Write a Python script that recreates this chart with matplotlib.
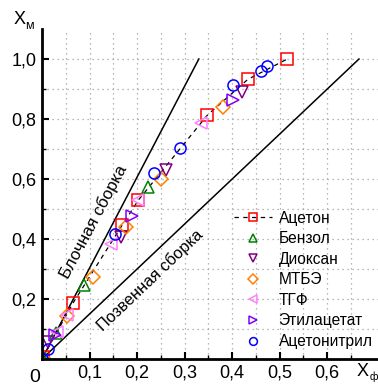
"""
X_m vs X_f plot for copolymerisation with different solvents.
"""

import matplotlib

matplotlib.use("Agg")
import matplotlib.pyplot as plt
from matplotlib.ticker import FixedLocator

plt.rcParams["font.family"] = ["Liberation Sans", "DejaVu Sans"]

# Data (x = X_f, y = X_m)
acetone_x = [0.003, 0.065, 0.169, 0.203, 0.348, 0.433, 0.515]
acetone_y = [0.008, 0.186, 0.447, 0.530, 0.813, 0.932, 0.999]

benzene_x = [0.003, 0.030, 0.088, 0.222]
benzene_y = [0.005, 0.088, 0.247, 0.574]

dioxane_x = [0.012, 0.166, 0.261, 0.420]
dioxane_y = [0.058, 0.406, 0.630, 0.891]

mtbe_x = [0.003, 0.052, 0.107, 0.177, 0.250, 0.380]
mtbe_y = [0.005, 0.145, 0.275, 0.439, 0.599, 0.839]

thf_x = [0.031, 0.052, 0.145, 0.203, 0.334]
thf_y = [0.091, 0.147, 0.383, 0.530, 0.788]

ethylacetate_x = [0.028, 0.189, 0.401]
ethylacetate_y = [0.080, 0.478, 0.865]

acetonitrile_x = [0.001, 0.012, 0.154, 0.236, 0.290, 0.401, 0.460, 0.474]
acetonitrile_y = [0.001, 0.033, 0.417, 0.621, 0.702, 0.915, 0.961, 0.977]

# reference lines
block_x = [0.0, 0.33]
block_y = [0.0, 1.0]
step_x = [0.0, 0.667]
step_y = [0.0, 1.0]

x_ticks = [0.1, 0.2, 0.3, 0.4, 0.5, 0.6]
x_ticklabels = ["0,1", "0,2", "0,3", "0,4", "0,5", "0,6"]
y_ticks = [0.2, 0.4, 0.6, 0.8, 1.0]
y_ticklabels = ["0,2", "0,4", "0,6", "0,8", "1,0"]

series = [
    ("Ацетон", acetone_x, acetone_y, "s", "#ff0000", 8),
    ("Бензол", benzene_x, benzene_y, "^", "#008000", 8),
    ("Диоксан", dioxane_x, dioxane_y, "v", "#800080", 8),
    ("МТБЭ", mtbe_x, mtbe_y, "D", "#ff8000", 7),
    ("ТГФ", thf_x, thf_y, "<", "#ff80ff", 8),
    ("Этилацетат", ethylacetate_x, ethylacetate_y, ">", "#8000ff", 8),
    ("Ацетонитрил", acetonitrile_x, acetonitrile_y, "o", "#0000ff", 8),
]


def setup_axes():
    fig = plt.figure(figsize=(3.78, 3.85), dpi=100)
    ax = fig.add_axes([42 / 378, 26 / 385, 336 / 378, 330 / 385])

    ax.set_xlim(0, 0.707)
    ax.set_ylim(0, 1.1)

    for side in ("top", "right"):
        ax.spines[side].set_visible(False)
    for side in ("left", "bottom"):
        ax.spines[side].set_linewidth(2)

    ax.xaxis.set_major_locator(FixedLocator(x_ticks))
    ax.set_xticklabels(x_ticklabels)
    ax.xaxis.set_minor_locator(FixedLocator([0.05, 0.15, 0.25, 0.35, 0.45, 0.55, 0.65]))
    ax.yaxis.set_major_locator(FixedLocator(y_ticks))
    ax.set_yticklabels(y_ticklabels)
    ax.yaxis.set_minor_locator(FixedLocator([0.1, 0.3, 0.5, 0.7, 0.9]))

    ax.tick_params(which="major", direction="in", length=5, width=1.5,
                   labelsize=13, pad=4)
    ax.tick_params(which="minor", direction="in", length=3, width=1)

    ax.grid(which="both", color="#a0a0a0", linestyle=(0, (1, 3)), linewidth=0.9)
    ax.set_axisbelow(True)

    return fig, ax


fig, ax = setup_axes()

ax.plot(block_x, block_y, color="black", lw=1.1)
ax.plot(step_x, step_y, color="black", lw=1.1)

for name, xs, ys, marker, color, size in series:
    ls = (0, (3.5, 3.5)) if name == "Ацетон" else "none"
    ax.plot(xs, ys, linestyle=ls, color="black", lw=0.9,
            marker=marker, markersize=size, markerfacecolor="none",
            markeredgecolor=color, markeredgewidth=1.1, label=name)

ax.text(0.109, 0.457, "Блочная сборка", rotation=62, fontsize=12.2,
        ha="center", va="center", rotation_mode="anchor")
ax.text(0.227, 0.263, "Позвенная сборка", rotation=43.5, fontsize=11.8,
        ha="center", va="center", rotation_mode="anchor")

ax.legend(loc="upper left", bbox_to_anchor=(0.57, 0.45), frameon=False,
          fontsize=11.2, markerscale=0.7, handlelength=2.5, handletextpad=0.4,
          labelspacing=0.36, borderaxespad=0, borderpad=0)

# axis captions
fig.text(35 / 378, 1 - 378 / 385, "0", fontsize=14, ha="center", va="center")
fig.text(14 / 378, 1 - 20 / 385, "X", fontsize=13, ha="left", va="center")
fig.text(25 / 378, 1 - 26 / 385, "м", fontsize=9, ha="left", va="center")
fig.text(357 / 378, 1 - 372 / 385, "X", fontsize=13, ha="left", va="center")
fig.text(369.5 / 378, 1 - 377 / 385, "ф", fontsize=7.5, ha="left", va="center")

fig.savefig("out.png", dpi=100)
